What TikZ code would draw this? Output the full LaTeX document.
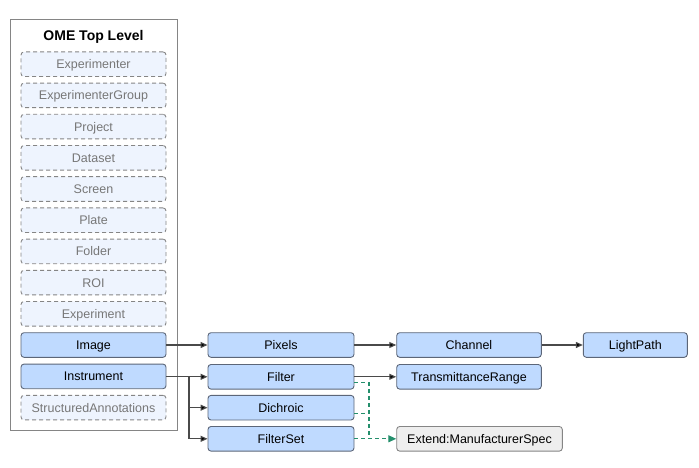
\documentclass[tikz,border=0pt]{standalone}
\usepackage{fontspec}
\setmainfont{Liberation Sans}
\usetikzlibrary{arrows.meta,calc}
\definecolor{boxblue}{HTML}{BFDAFF}
\definecolor{boxedge}{HTML}{5C6678}
\definecolor{lightblue}{HTML}{EEF4FE}
\definecolor{dashedge}{HTML}{858585}
\definecolor{greytext}{HTML}{777777}
\definecolor{linegray}{HTML}{4A4A4A}
\definecolor{extfill}{HTML}{EEEEEE}
\definecolor{greenline}{HTML}{248F6C}
\tikzset{
  basebox/.style={rounded corners=3pt, line width=0.9pt, minimum height=24.6pt, inner sep=0pt,
     text height=9pt, text depth=0pt, font=\fontsize{12.5}{14}\selectfont},
  solidbox/.style={basebox, draw=boxedge, fill=boxblue, text=black},
  topbox/.style={basebox, draw=dashedge, fill=lightblue, dash pattern=on 4pt off 3pt,
     minimum width=145pt, text=greytext},
  extbox/.style={basebox, draw=dashedge, fill=extfill, text=black},
  conn/.style={draw=linegray, line width=1.1pt, -{Triangle[length=7pt,width=6pt,fill=black]}},
  greenconn/.style={draw=greenline, line width=1.2pt, dash pattern=on 4pt off 3pt},
}
\begin{document}
\begin{tikzpicture}[x=1pt,y=-1pt]
\useasboundingbox (0,0) rectangle (699,468);
\node[draw=dashedge, line width=0.8pt, minimum width=167pt, minimum height=410.5pt, inner sep=0pt] (outer) at (93.5,224.8) {};
\node[font=\fontsize{14}{16}\selectfont\bfseries, text height=10pt, text depth=0pt, inner sep=0pt] (title) at (93.5,35.5) {OME Top Level};
\node[topbox] (experimenter) at (93.5,64.2) {Experimenter};
\node[topbox] (group) at (93.5,95.4) {ExperimenterGroup};
\node[topbox] (project) at (93.5,126.6) {Project};
\node[topbox] (dataset) at (93.5,157.8) {Dataset};
\node[topbox] (screen) at (93.5,189.0) {Screen};
\node[topbox] (plate) at (93.5,220.2) {Plate};
\node[topbox] (folder) at (93.5,251.4) {Folder};
\node[topbox] (roi) at (93.5,282.6) {ROI};
\node[topbox] (experiment) at (93.5,313.8) {Experiment};
\node[solidbox, minimum width=145pt] (image) at (93.5,345.0) {Image};
\node[solidbox, minimum width=145pt] (instrument) at (93.5,376.4) {Instrument};
\node[topbox] (annotations) at (93.5,407.6) {StructuredAnnotations};

\node[solidbox, minimum width=146pt] (pixels) at (281,345.0) {Pixels};
\node[solidbox, minimum width=146pt] (filter) at (281,376.8) {Filter};
\node[solidbox, minimum width=146pt] (dichroic) at (281,407.7) {Dichroic};
\node[solidbox, minimum width=146pt] (filterset) at (281,438.8) {FilterSet};

\node[solidbox, minimum width=144.6pt] (channel) at (469,345.0) {Channel};
\node[solidbox, minimum width=104pt] (lightpath) at (635.3,345.0) {LightPath};
\node[solidbox, minimum width=144.6pt] (transrange) at (469,376.8) {TransmittanceRange};
\node[extbox, minimum width=165.6pt] (extend) at (479.5,438.8) {Extend:ManufacturerSpec};

\draw[conn] (image.east) -- (pixels.west);
\draw[conn] (pixels.east) -- (channel.west);
\draw[conn] (channel.east) -- (lightpath.west);
\draw[conn] (filter.east) -- (transrange.west);
\coordinate (br) at (189,376.8);
\draw[conn] (instrument.east |- br) -- (filter.west);
\draw[conn] (br) |- (dichroic.west);
\draw[conn] (br) |- (filterset.west);

\coordinate (gx) at (369,0);
\coordinate (fstart) at ([yshift=-6pt]filter.east);
\coordinate (dstart) at ([yshift=-6pt]dichroic.east);
\draw[greenconn] (fstart) -| (gx |- filterset.east);
\draw[greenconn] (dstart) -- (gx |- dstart);
\draw[greenconn, -{Triangle[length=8pt,width=7pt]}] (filterset.east) -- (extend.west);
\end{tikzpicture}
\end{document}
